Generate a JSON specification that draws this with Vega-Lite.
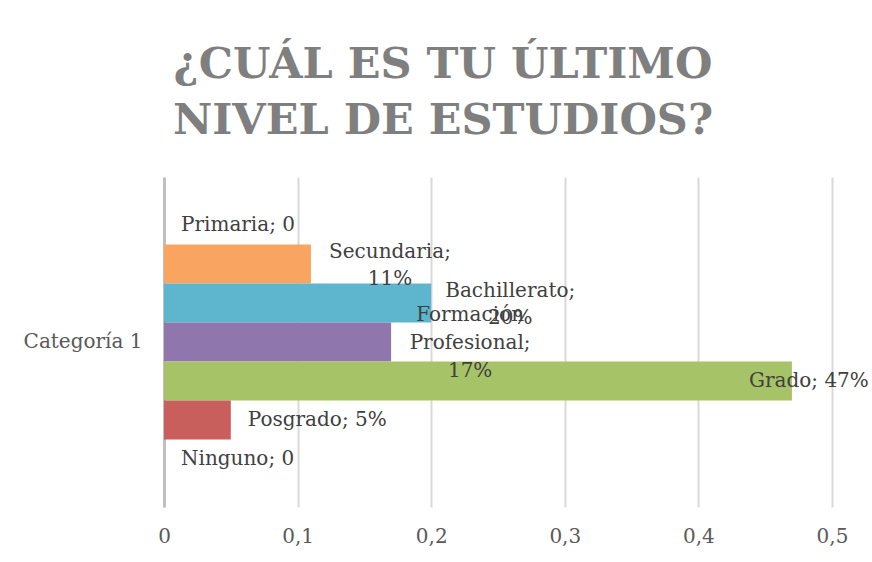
{
  "$schema": "https://vega.github.io/schema/vega-lite/v6.json",
  "width": 668,
  "height": 330,
  "autosize": {"type": "none"},
  "padding": {"left": 164, "top": 177, "right": 40, "bottom": 55},
  "background": "white",
  "title": {
    "text": ["¿CUÁL ES TU ÚLTIMO", "NIVEL DE ESTUDIOS?"],
    "font": "DejaVu Serif",
    "fontSize": 43,
    "fontWeight": "bold",
    "color": "#7f7f7f",
    "lineHeight": 56,
    "anchor": "middle",
    "frame": "group",
    "dx": -55,
    "offset": 34
  },
  "config": {"view": {"stroke": null}},
  "data": {
    "values": [
      {"categoria": "Categoría 1", "serie": "Primaria", "valor": 0, "etiqueta": "Primaria; 0", "grupo": "izq"},
      {"categoria": "Categoría 1", "serie": "Secundaria", "valor": 0.11, "etiqueta": "Secundaria;\n11%", "grupo": "dos"},
      {"categoria": "Categoría 1", "serie": "Bachillerato", "valor": 0.2, "etiqueta": "Bachillerato;\n20%", "grupo": "dos"},
      {"categoria": "Categoría 1", "serie": "Formación Profesional", "valor": 0.17, "etiqueta": "Formación\nProfesional;\n17%", "grupo": "tres"},
      {"categoria": "Categoría 1", "serie": "Grado", "valor": 0.47, "etiqueta": "Grado; 47%", "grupo": "fin"},
      {"categoria": "Categoría 1", "serie": "Posgrado", "valor": 0.05, "etiqueta": "Posgrado; 5%", "grupo": "izq"},
      {"categoria": "Categoría 1", "serie": "Ninguno", "valor": 0, "etiqueta": "Ninguno; 0", "grupo": "izq"}
    ]
  },
  "encoding": {
    "y": {
      "field": "categoria",
      "type": "nominal",
      "scale": {"domain": ["Categoría 1"], "paddingInner": 0, "paddingOuter": 0.104},
      "axis": {
        "title": null,
        "domain": true,
        "domainColor": "#bfbfbf",
        "domainWidth": 3,
        "ticks": false,
        "grid": false,
        "labelPadding": 22,
        "labelFont": "DejaVu Serif",
        "labelFontSize": 20,
        "labelColor": "#595959"
      }
    },
    "yOffset": {
      "field": "serie",
      "type": "nominal",
      "sort": ["Primaria", "Secundaria", "Bachillerato", "Formación Profesional", "Grado", "Posgrado", "Ninguno"],
      "scale": {"paddingInner": 0, "paddingOuter": 0}
    },
    "x": {
      "field": "valor",
      "type": "quantitative",
      "scale": {"domain": [0, 0.5], "nice": false},
      "axis": {
        "title": null,
        "values": [0, 0.1, 0.2, 0.3, 0.4, 0.5],
        "labelExpr": "replace(format(datum.value, '.1~f'), '.', ',')",
        "labelFlush": false,
        "grid": true,
        "gridColor": "#d9d9d9",
        "gridWidth": 2,
        "domain": false,
        "ticks": false,
        "labelPadding": 19,
        "labelFont": "DejaVu Serif",
        "labelFontSize": 20,
        "labelColor": "#595959"
      }
    }
  },
  "layer": [
    {
      "mark": {"type": "bar"},
      "encoding": {
        "color": {
          "field": "serie",
          "type": "nominal",
          "legend": null,
          "scale": {
            "domain": ["Primaria", "Secundaria", "Bachillerato", "Formación Profesional", "Grado", "Posgrado", "Ninguno"],
            "range": ["#5b82bd", "#f9a461", "#5db6cd", "#8f77ae", "#a7c367", "#c95f5c", "#4aa0b8"]
          }
        }
      }
    },
    {
      "transform": [{"filter": "datum.grupo == 'izq'"}],
      "mark": {"type": "text", "align": "left", "dx": 17, "baseline": "middle", "font": "DejaVu Serif", "fontSize": 20, "color": "#404040", "lineBreak": "\n", "lineHeight": 27},
      "encoding": {"text": {"field": "etiqueta"}}
    },
    {
      "transform": [{"filter": "datum.grupo == 'dos'"}],
      "mark": {"type": "text", "align": "center", "dx": 79, "dy": -12, "baseline": "middle", "font": "DejaVu Serif", "fontSize": 20, "color": "#404040", "lineBreak": "\n", "lineHeight": 27},
      "encoding": {"text": {"field": "etiqueta"}}
    },
    {
      "transform": [{"filter": "datum.grupo == 'tres'"}],
      "mark": {"type": "text", "align": "center", "dx": 79, "dy": -27, "baseline": "middle", "font": "DejaVu Serif", "fontSize": 20, "color": "#404040", "lineBreak": "\n", "lineHeight": 28},
      "encoding": {"text": {"field": "etiqueta"}}
    },
    {
      "transform": [{"filter": "datum.grupo == 'fin'"}],
      "mark": {"type": "text", "align": "center", "dx": 17, "baseline": "middle", "font": "DejaVu Serif", "fontSize": 20, "color": "#404040", "lineBreak": "\n", "lineHeight": 27},
      "encoding": {"text": {"field": "etiqueta"}}
    }
  ]
}
